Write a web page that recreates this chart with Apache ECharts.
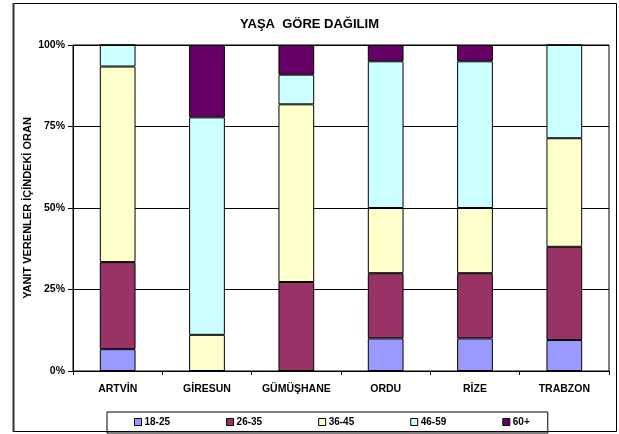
<!DOCTYPE html>
<html>
<head>
<meta charset="utf-8">
<script src="https://cdn.jsdelivr.net/npm/echarts@6/dist/echarts.min.js"></script>
<style>
  html,body{margin:0;padding:0;background:#fff;}
  #main{width:619px;height:434px;}
</style>
</head>
<body>
<div id="main"></div>
<script>
// data (percent of respondents)
var cities = ["ARTVİN", "GİRESUN", "GÜMÜŞHANE", "ORDU", "RİZE", "TRABZON"];
var age18_25 = [6.7, 0, 0, 10, 10, 9.5];
var age26_35 = [26.7, 0, 27.3, 20, 20, 28.6];
var age36_45 = [60, 11.1, 54.5, 20, 20, 33.3];
var age46_59 = [6.6, 66.7, 9.1, 45, 45, 28.6];
var age60 = [0, 22.2, 9.1, 5, 5, 0];
var yTicks = [0, 25, 50, 75, 100];

var names = ["18-25", "26-35", "36-45", "46-59", "60+"];
var colors = ["#9999FF", "#993366", "#FFFFCC", "#CCFFFF", "#660066"];
var values = [age18_25, age26_35, age36_45, age46_59, age60];

var font = "Liberation Sans, Arial, sans-serif";

var series = [];
for (var i = 0; i < names.length; i++) {
  series.push({
    name: names[i],
    type: "bar",
    stack: "all",
    barWidth: "40%",
    data: values[i],
    itemStyle: {color: colors[i], borderColor: "#000", borderWidth: 1},
    emphasis: {disabled: true}
  });
}

var chart = echarts.init(document.getElementById("main"));
chart.setOption({
  animation: false,
  textStyle: {fontFamily: font},
  title: {
    text: "YAŞA  GÖRE DAĞILIM",
    left: "center", top: 13,
    textStyle: {fontSize: 13, fontWeight: "bold", color: "#000", fontFamily: font}
  },
  graphic: [{
    type: "rect", z: -1,
    shape: {x: 13.5, y: 3.5, width: 603, height: 428},
    style: {fill: "none", stroke: "#000", lineWidth: 1}
  }, {
    type: "line",
    shape: {x1: 13.5, y1: 3, x2: 13.5, y2: 432},
    style: {stroke: "#333", lineWidth: 2}
  }],
  legend: {
    data: names,
    left: 107, top: 412,
    itemWidth: 7, itemHeight: 7, itemGap: 56,
    padding: [5, 18, 6, 27],
    borderColor: "#000", borderWidth: 1,
    icon: "rect",
    itemStyle: {borderColor: "#000", borderWidth: 1},
    textStyle: {fontSize: 10, fontWeight: "bold", color: "#000", fontFamily: font, padding: [0, 0, 0, -2]}
  },
  grid: {
    left: 73, right: 10, top: 45, bottom: 63,
    show: true, borderColor: "#000", borderWidth: 1, backgroundColor: "#fff"
  },
  xAxis: {
    type: "category",
    data: cities,
    axisLine: {lineStyle: {color: "#000"}},
    axisTick: {show: true, length: 4, lineStyle: {color: "#000"}},
    axisLabel: {interval: 0, fontSize: 10.5, fontWeight: "bold", color: "#000", margin: 13, fontFamily: font}
  },
  yAxis: {
    type: "value",
    min: yTicks[0], max: yTicks[yTicks.length - 1], interval: 25,
    name: "YANIT VERENLER İÇİNDEKİ ORAN",
    nameLocation: "middle", nameGap: 40, nameRotate: 90,
    nameMoveOverlap: false,
    nameTextStyle: {fontSize: 11, fontWeight: "bold", color: "#000", fontFamily: font},
    axisLine: {show: true, lineStyle: {color: "#000"}},
    axisTick: {show: true, length: 5, lineStyle: {color: "#000"}},
    axisLabel: {formatter: "{value}%", fontSize: 10.5, fontWeight: "bold", color: "#000", margin: 8, fontFamily: font},
    splitLine: {lineStyle: {color: "#000"}}
  },
  series: series
});
</script>
</body>
</html>
